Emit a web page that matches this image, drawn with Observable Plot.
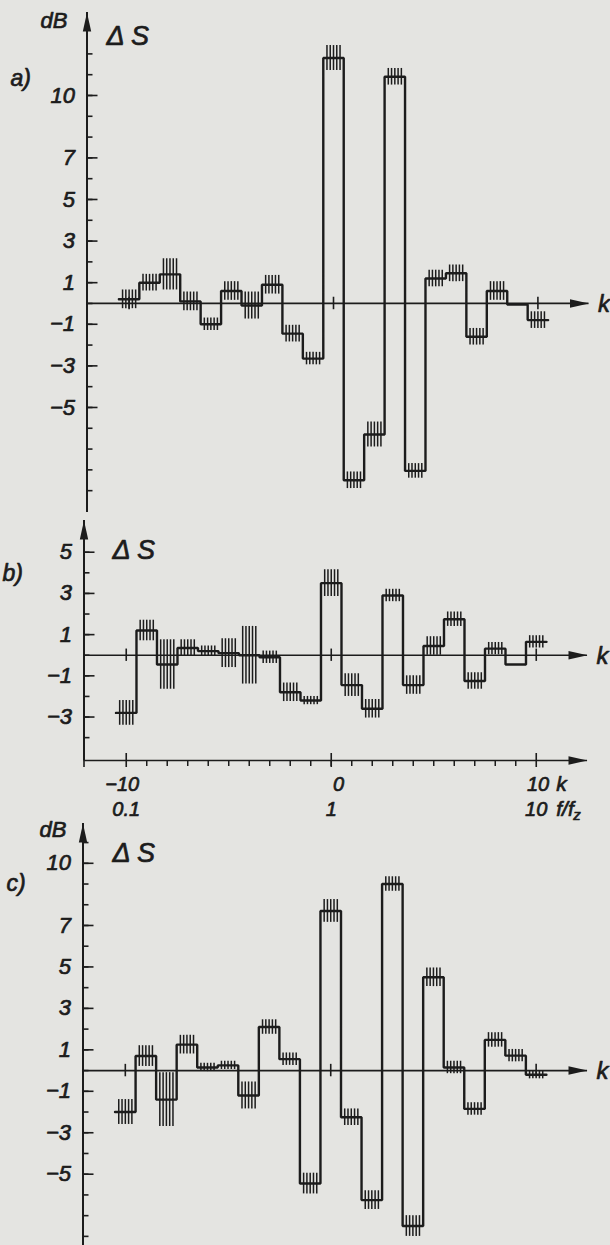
<!DOCTYPE html>
<html><head><meta charset="utf-8">
<script src="https://cdn.jsdelivr.net/npm/d3@7"></script>
<script src="https://cdn.jsdelivr.net/npm/@observablehq/plot@0.6"></script>
<style>
html,body{margin:0;padding:0;background:#e4e4e1;}
#fig{position:relative;width:610px;height:1245px;overflow:hidden;background:#e4e4e1;}
</style></head><body><div id="fig"></div>
<script>
// harmonic index k (-10 … 10) around the meshing frequency
const kValues = d3.range(-10, 11);

// panel a) – ΔS (dB) and half-spread of the hatched band
const valuesA = [0.2, 1.0, 1.4, 0.1, -1.0, 0.6, -0.1, 0.9, -1.45, -2.65, 11.8, -8.5, -6.3, 10.9, -8.05, 1.2, 1.45, -1.6, 0.6, -0.05, -0.8];
const spreadA = [0.45, 0.4, 0.75, 0.45, 0.3, 0.45, 0.65, 0.45, 0.4, 0.3, 0.6, 0.4, 0.6, 0.4, 0.35, 0.4, 0.4, 0.4, 0.45, 0, 0.4];

// panel b)
const valuesB = [-2.8, 1.2, -0.45, 0.35, 0.2, 0.1, 0.0, -0.1, -1.8, -2.2, 3.5, -1.45, -2.6, 2.9, -1.45, 0.45, 1.75, -1.25, 0.32, -0.45, 0.65];
const spreadB = [0.6, 0.5, 1.2, 0.4, 0.25, 0.7, 1.4, 0.3, 0.45, 0.2, 0.65, 0.55, 0.45, 0.3, 0.45, 0.45, 0.35, 0.4, 0.3, 0, 0.3];

// panel c)
const valuesC = [-2.0, 0.7, -1.4, 1.25, 0.15, 0.25, -1.2, 2.1, 0.55, -5.45, 7.7, -2.25, -6.25, 9.0, -7.5, 4.5, 0.15, -1.85, 1.48, 0.72, -0.2];
const spreadC = [0.6, 0.5, 1.3, 0.45, 0.2, 0.2, 0.65, 0.35, 0.3, 0.5, 0.55, 0.4, 0.45, 0.35, 0.5, 0.45, 0.3, 0.3, 0.35, 0.3, 0.2];

// axis ticks
const ticksA = d3.range(-9, 13);
const labelsA = [10, 7, 5, 3, 1, -1, -3, -5];
const ticksB = d3.range(-4, 6);
const labelsB = [5, 3, 1, -1, -3];
const ticksC = d3.range(-8, 12);
const labelsC = [10, 7, 5, 3, 1, -1, -3, -5];
const kMarkers = [-10, 0, 10];
const kMinorTicks = d3.range(-9, 10);
const kMajorTicks = [-10, 0, 10];
const kTickLabels = [-10, 0, 10];
const fTickLabels = ["0.1", "1", "10"];

const kDomain = [-12.06, 12.5];
const ink = "#1c1c1c";
const font = "'Liberation Sans', Arial, sans-serif";
const fmt = v => v < 0 ? "\u2212" + (-v) : String(v);
const txt = {fill: ink, stroke: ink, strokeWidth: 0.7, fontStyle: "italic"};

const hatchOffsets = [-0.32, -0.16, 0, 0.16, 0.32];
const stepPoints = vals => kValues.flatMap((k, i) => [{k: k - 0.5, v: vals[i]}, {k: k + 0.5, v: vals[i]}]);
const hatchData = (vals, spread) => kValues.flatMap((k, i) =>
  spread[i] > 0 ? hatchOffsets.map(o => ({k: k + o, lo: vals[i] - spread[i], hi: vals[i] + spread[i]})) : []);

const arrowHead = {draw(ctx) { ctx.moveTo(0, 0); ctx.lineTo(4.2, 19); ctx.lineTo(-4.2, 19); ctx.closePath(); }};

function panel(o) {
  const W = 610;
  const plotW = W - o.mL - o.mR, plotH = o.height - o.mT - o.mB;
  const annot = (t, ax, ay, size) => Plot.text([t], {
    frameAnchor: "top-left", dx: ax - o.mL, dy: ay - o.top - o.mT, text: d => d,
    textAnchor: "start", lineAnchor: "bottom", fontSize: size, ...txt
  });
  const marks = [
    Plot.ruleX([kDomain[0]], {stroke: ink, strokeWidth: 2}),
    Plot.ruleY([0], {stroke: ink, strokeWidth: 1.7}),
    Plot.dot([[kDomain[0], o.yDomain[1]]], {x: d => d[0], y: d => d[1], symbol: arrowHead, fill: ink, stroke: "none", r: 5}),
    Plot.dot([[kDomain[1], 0]], {x: d => d[0], y: d => d[1], symbol: arrowHead, fill: ink, stroke: "none", r: 5, rotate: 90}),
    Plot.tickY(o.ticks, {y: d => d, insetRight: plotW - 6, stroke: ink, strokeWidth: 1.6}),
    Plot.tickY(o.labels, {y: d => d, insetRight: plotW - 11, stroke: ink, strokeWidth: 1.6}),
    Plot.text(o.labels, {y: d => d, text: fmt, frameAnchor: "left", textAnchor: "end", dx: -12, fontSize: 22, ...txt}),
    Plot.ruleX(kMarkers, {x: d => d, y1: () => -0.3, y2: () => 0.3, stroke: ink, strokeWidth: 1.6}),
    Plot.ruleX(hatchData(o.vals, o.spread), {x: "k", y1: "lo", y2: "hi", stroke: ink, strokeWidth: 1.5}),
    Plot.line(stepPoints(o.vals), {x: "k", y: "v", stroke: ink, strokeWidth: 2.4, strokeLinejoin: "miter"}),
    Plot.text(["k"], {x: () => kDomain[1], y: () => 0, dx: 9, text: d => d, textAnchor: "start", dy: 1, fontSize: 24, ...txt}),
    ...o.texts.map(t => annot(...t))
  ];
  if (o.bottomAxis) {
    marks.push(
      Plot.ruleY([o.yDomain[0]], {stroke: ink, strokeWidth: 1.7}),
      Plot.dot([[kDomain[1], o.yDomain[0]]], {x: d => d[0], y: d => d[1], symbol: arrowHead, fill: ink, stroke: "none", r: 5, rotate: 90}),
      Plot.tickX(kMinorTicks, {x: d => d, insetTop: plotH, insetBottom: -6, stroke: ink, strokeWidth: 1.5}),
      Plot.tickX([kDomain[0], ...kMajorTicks], {x: d => d, insetTop: plotH - 7, insetBottom: -7, stroke: ink, strokeWidth: 1.6}),
      Plot.text(kTickLabels, {x: d => d, text: fmt, frameAnchor: "bottom", lineAnchor: "bottom", dy: 30,
        textAnchor: "end", dx: 13, fontSize: 20, ...txt}),
      Plot.text(kTickLabels, {x: d => d, text: (d, i) => fTickLabels[i], frameAnchor: "bottom", lineAnchor: "bottom", dy: 55,
        textAnchor: "middle", dx: 0, fontSize: 20, ...txt}),
      Plot.text(["k"], {x: () => 10, text: d => d, frameAnchor: "bottom", lineAnchor: "bottom", dy: 30, dx: 20,
        textAnchor: "start", fontSize: 21, ...txt}),
      Plot.text(["f/f"], {x: () => 10, text: d => d, frameAnchor: "bottom", lineAnchor: "bottom", dy: 55, dx: 20,
        textAnchor: "start", fontSize: 21, ...txt}),
      Plot.text(["z"], {x: () => 10, text: d => d, frameAnchor: "bottom", lineAnchor: "bottom", dy: 59, dx: 37,
        textAnchor: "start", fontSize: 15, ...txt})
    );
  }
  const svg = Plot.plot({
    width: W, height: o.height,
    marginTop: o.mT, marginBottom: o.mB, marginLeft: o.mL, marginRight: o.mR,
    x: {domain: kDomain, axis: null},
    y: {domain: o.yDomain, axis: null},
    style: {position: "absolute", top: o.top + "px", left: "0px", background: "transparent", overflow: "visible",
      fontFamily: font, color: ink},
    marks
  });
  document.getElementById("fig").appendChild(svg);
}

panel({top: 0, height: 525, mT: 12, mB: 13, mL: 86.5, mR: 21.5, yDomain: [-10.05, 13.99],
  vals: valuesA, spread: spreadA, ticks: ticksA, labels: labelsA,
  texts: [["dB", 40, 27, 22], ["\u0394 S", 106, 44, 27], ["a)", 10, 85, 23]]});
panel({top: 500, height: 330, mT: 20, mB: 70, mL: 83.5, mR: 23, yDomain: [-5.11, 6.54],
  vals: valuesB, spread: spreadB, ticks: ticksB, labels: labelsB, bottomAxis: true,
  texts: [["\u0394 S", 112, 558, 27], ["b)", 2, 580, 23]]});
panel({top: 800, height: 445, mT: 23, mB: 0, mL: 82.5, mR: 23, yDomain: [-8.44, 11.92],
  vals: valuesC, spread: spreadC, ticks: ticksC, labels: labelsC,
  texts: [["dB", 39, 836, 22], ["\u0394 S", 112, 861, 27], ["c)", 6, 890, 23]]});
</script></body></html>
